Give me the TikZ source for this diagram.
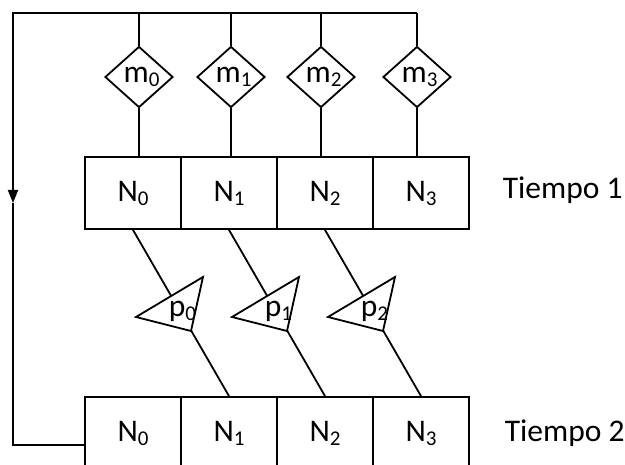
\documentclass[tikz,border=0pt]{standalone}
\usepackage{fontspec}
\setmainfont{Carlito}
\usetikzlibrary{shapes.geometric,arrows.meta}
% lowered, smaller index digit
\newcommand\sbs[1]{\raisebox{-4pt}{\fontsize{21}{23}\selectfont #1}}

\begin{document}
\begin{tikzpicture}[x=1pt,y=-1pt, line width=1.8pt,
  every node/.style={font=\fontsize{31.5}{35}\selectfont},
  cell/.style={draw, rectangle, minimum width=96pt, minimum height=72pt, inner sep=0pt},
  gate/.style={draw, diamond, minimum width=68pt, minimum height=61pt, inner sep=0pt, fill=white},
  prob/.style={draw, fill=white, line join=miter},
  lbl/.style={anchor=base west, inner sep=0pt},
  tip/.style={-{Triangle[length=13pt,width=10pt]}}]
  \useasboundingbox (0,0) rectangle (625,465);
  \fill[white] (0,0) rectangle (625,465);
  \clip (0,0) rectangle (625,465);

  % the two rows of cells
  \foreach \i/\x in {0/133,1/229,2/325,3/421} {
    \node[cell] (t\i) at (\x,193) {N\sbs{\i}};
    \node[cell] (b\i) at (\x,433) {N\sbs{\i}};
  }

  % corner of the feedback loop
  \coordinate (tl) at (13,13);
  \coordinate (arr) at (13,203);
  \coordinate (fb) at (b0.south west |- 0,445);
  \coordinate (bl) at (tl |- fb);

  % diamonds fed from the top bus
  \foreach \i/\x in {0/139,1/231,2/321,3/417} {
    \node[gate] (m\i) at (\x,77) {\kern5pt m\sbs{\i}};
    \draw (m\i.north |- tl) -- (m\i.north);
    \draw (m\i.south) -- (m\i.south |- t\i.north);
  }

  % bus and feedback line
  \draw[tip] (m3.north |- tl) -- (tl) -- (arr);
  \draw (arr) -- (bl) -- (fb);

  % links between the rows, each through a triangle
  \foreach \i in {0,1,2} {
    \pgfmathtruncatemacro\j{\i+1}
    \draw (t\i.south) -- (b\j.north);
    \begin{scope}[shift={(96*\i,0)}]
      \draw[prob] (191,331) -- (136,317) -- (203,277) -- cycle;
      \node[lbl] (p\i) at (168,317) {p\sbs{\i}};
    \end{scope}
  }

  \node[lbl] (tiempo1) at (502,199) {Tiempo 1};
  \node[lbl] (tiempo2) at (504,442) {Tiempo 2};
\end{tikzpicture}
\end{document}
